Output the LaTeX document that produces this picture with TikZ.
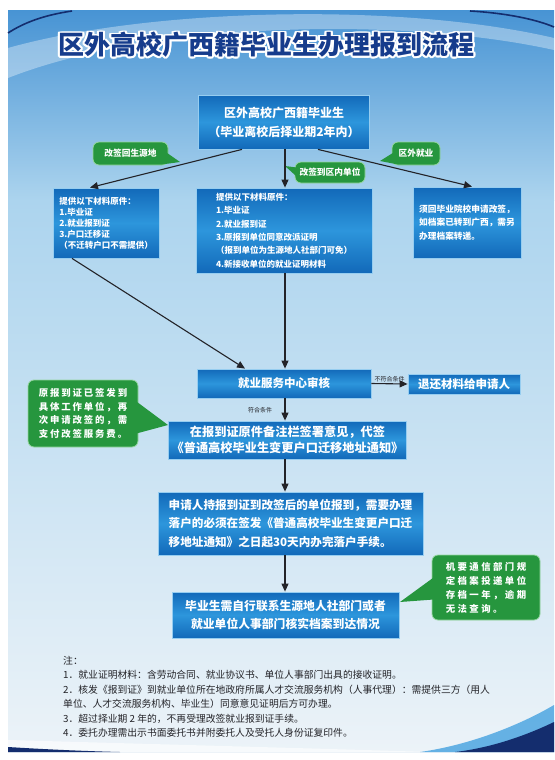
\documentclass[tikz,border=0pt]{standalone}
\usepackage{fontspec}
\setmainfont{Noto Sans CJK SC}
\usetikzlibrary{arrows.meta,calc}
\definecolor{bgtop}{RGB}{72,148,212}
\definecolor{bgmid}{RGB}{172,212,238}
\definecolor{bgbot}{RGB}{236,243,248}
\definecolor{navy}{RGB}{20,45,110}
\definecolor{titleblue}{RGB}{22,60,140}
\definecolor{boxdark}{RGB}{18,105,185}
\definecolor{boxlight}{RGB}{45,150,220}
\definecolor{boxrim}{RGB}{150,205,240}
\definecolor{taggreen}{RGB}{38,150,62}
\definecolor{tagrim}{RGB}{150,215,160}
\definecolor{linegray}{RGB}{35,35,40}

\begin{document}
\begin{tikzpicture}[x=1pt, y=-1pt, >={Triangle[length=8pt,width=7pt]},
  bluebox/.style={draw=boxrim, line width=0.8pt, top color=boxdark, bottom color=boxdark, middle color=boxlight, text=white, inner sep=3pt, align=left},
  greentag/.style={draw=tagrim, line width=0.8pt, fill=taggreen, rounded corners=6pt, text=white, inner sep=3pt, align=left},
  flow/.style={->, draw=linegray, line width=1.1pt},
  tip/.style={fill=taggreen},
  small/.style={font=\fontsize{6}{7}\selectfont, text=linegray, inner sep=1pt}]
  % background
  \useasboundingbox (0,0) rectangle (554,760);
  \shade[top color=bgtop, bottom color=bgmid] (8,11) rectangle (554,200);
  \shade[top color=bgmid, bottom color=bgbot] (8,200) rectangle (554,752);
  \fill[white, opacity=0.35] (8,48) .. controls (150,8) and (400,2) .. (554,38) -- (554,50) .. controls (400,16) and (150,22) .. (8,78) -- cycle;
  \draw[navy, line width=1.6pt] (8,33) .. controls (25,22) and (45,15) .. (72,11);
  \draw[navy, line width=1.6pt] (470,11) .. controls (505,13) and (535,19) .. (554,27);
  \fill[white, opacity=0.6] (8,740) .. controls (150,744) and (300,748) .. (430,752) -- (8,752) -- cycle;
  \fill[navy] (8,747) .. controls (40,749) and (80,751) .. (120,752) -- (8,752) -- cycle;
  \fill[boxlight, opacity=0.7] (554,705) .. controls (520,725) and (470,745) .. (420,752) -- (554,752) -- cycle;
  \fill[navy] (554,722) .. controls (525,736) and (490,748) .. (455,752) -- (554,752) -- cycle;

  % title
  \foreach \a in {0,30,...,330}
    \node[text=white, font=\bfseries\fontsize{26}{30}\selectfont] at ([shift={(\a:1.8pt)}] 266.5,45) {区外高校广西籍毕业生办理报到流程};
  \node[text=titleblue, font=\bfseries\fontsize{26}{30}\selectfont] (title) at (266.5,45) {区外高校广西籍毕业生办理报到流程};

  % boxes
  \node[bluebox, minimum width=171pt, minimum height=54pt, align=center, font=\bfseries\fontsize{12}{19}\selectfont] (top) at (284,122) {区外高校广西籍毕业生\\（毕业离校后择业期2年内）};
  \node[bluebox, minimum width=106pt, minimum height=70pt, font=\bfseries\fontsize{8.5}{11}\selectfont] (lbox) at (106,223) {提供以下材料原件：\\1.毕业证\\2.就业报到证\\3.户口迁移证\\（不迁转户口不需提供）};
  \node[bluebox, minimum width=176pt, minimum height=85pt, font=\bfseries\fontsize{8.5}{13.4}\selectfont] (mbox) at (284,230.5) {提供以下材料原件：\\1.毕业证\\2.就业报到证\\3.原报到单位同意改派证明\\（报到单位为生源地人社部门可免）\\4.新接收单位的就业证明材料};
  \node[bluebox, minimum width=108pt, minimum height=71pt, font=\bfseries\fontsize{8.7}{13.5}\selectfont] (rbox) at (467,222.5) {须回毕业院校申请改签，\\如档案已转到广西，需另\\办理档案转递。};
  \node[bluebox, minimum width=174pt, minimum height=29pt, font=\bfseries\fontsize{11.5}{14}\selectfont] (review) at (284,383.5) {就业服务中心审核};
  \node[bluebox, minimum width=112pt, minimum height=20pt, font=\bfseries\fontsize{11.5}{14}\selectfont] (back) at (464,384) {退还材料给申请人};
  \node[bluebox, minimum width=229pt, minimum height=38pt, align=center, font=\bfseries\fontsize{12.2}{16}\selectfont] (sign) at (287.5,440) {在报到证原件备注栏签署意见，代签\\《普通高校毕业生变更户口迁移地址通知》};
  \node[bluebox, minimum width=265pt, minimum height=63pt, font=\bfseries\fontsize{11.6}{18.5}\selectfont] (register) at (290.5,523.5) {申请人持报到证到改签后的单位报到，需要办理\\落户的必须在签发《普通高校毕业生变更户口迁\\移地址通知》之日起30天内办完落户手续。};
  \node[bluebox, minimum width=227pt, minimum height=46pt, align=center, font=\bfseries\fontsize{11.8}{18}\selectfont] (check) at (285.5,615) {毕业生需自行联系生源地人社部门或者\\就业单位人事部门核实档案到达情况};

  % green tags
  \node[greentag, minimum width=75pt, minimum height=23pt, align=center, font=\bfseries\fontsize{8.7}{10}\selectfont] (g1) at (130.5,153.5) {改签回生源地};
  \node[greentag, minimum width=70pt, minimum height=21pt, align=center, font=\bfseries\fontsize{8.7}{10}\selectfont] (g2) at (330,172.5) {改签到区内单位};
  \node[greentag, minimum width=48pt, minimum height=23pt, align=center, font=\bfseries\fontsize{8.7}{10}\selectfont] (g3) at (416,153.5) {区外就业};
  \node[greentag, minimum width=110pt, minimum height=67pt, font=\bfseries\fontsize{9.4}{13.7}\selectfont\addfontfeature{LetterSpace=20}] (g4) at (83,413.5) {原报到证已签发到\\具体工作单位，再\\次申请改签的，需\\支付改签服务费。};
  \node[greentag, minimum width=108pt, minimum height=65pt, font=\bfseries\fontsize{9.4}{14}\selectfont\addfontfeature{LetterSpace=26}] (g5) at (486,587.5) {机要通信部门规\\定档案投递单位\\存档一年，逾期\\无法查询。};

  % tag pointers
  \coordinate (t1) at (180,162);
  \coordinate (t2) at (285,166);
  \coordinate (t3) at (380,161);
  \coordinate (t4) at (168,425);
  \coordinate (t5) at (400,602);
  \fill[tip] ($(g1.east)+(-2,-1)$) -- (t1) -- ($(g1.south east)+(-6,-1)$) -- cycle;
  \fill[tip] ($(g2.west)+(2,-5)$) -- (t2) -- ($(g2.west)+(2,4)$) -- cycle;
  \fill[tip] ($(g3.west)+(2,-1)$) -- (t3) -- ($(g3.south west)+(6,-1)$) -- cycle;
  \fill[tip] ($(g4.east)+(-2,-12)$) -- (t4) -- ($(g4.east)+(-2,20)$) -- cycle;
  \fill[tip] ($(g5.west)+(2,-10)$) -- (t5) -- ($(g5.west)+(2,12)$) -- cycle;

  % connectors
  \coordinate (axis) at (285,0);
  \draw[flow] ($(top.south)+(-42,0)$) -- ($(lbox.north)+(-16,0)$);
  \draw[flow] (axis |- top.south) -- (axis |- mbox.north);
  \draw[flow] ($(top.south)+(34,0)$) -- ($(rbox.north)+(5,0)$);
  \draw[flow] ($(lbox.south)+(-34,0)$) -- ($(review.north)+(-39,0)$);
  \draw[flow] (axis |- mbox.south) -- (axis |- review.north);
  \draw[flow] (review.east) -- (back.west) node[small, midway, above] {不符合条件};
  \draw[flow] (axis |- review.south) -- (axis |- sign.north);
  \node[small] (okay) at (260,410) {符合条件};
  \draw[flow] (axis |- sign.south) -- (axis |- register.north);
  \draw[flow] (axis |- register.south) -- (axis |- check.north);

  % notes
  \node[anchor=north west, align=left, inner sep=0pt, text=linegray, font=\fontsize{9.8}{14.4}\selectfont] (notes) at (63,656) {注：\\1．就业证明材料：含劳动合同、就业协议书、单位人事部门出具的接收证明。\\2．核发《报到证》到就业单位所在地政府所属人才交流服务机构（人事代理）：需提供三方（用人\\单位、人才交流服务机构、毕业生）同意意见证明后方可办理。\\3．超过择业期 2 年的，不再受理改签就业报到证手续。\\4．委托办理需出示书面委托书并附委托人及受托人身份证复印件。};
\end{tikzpicture}
\end{document}
